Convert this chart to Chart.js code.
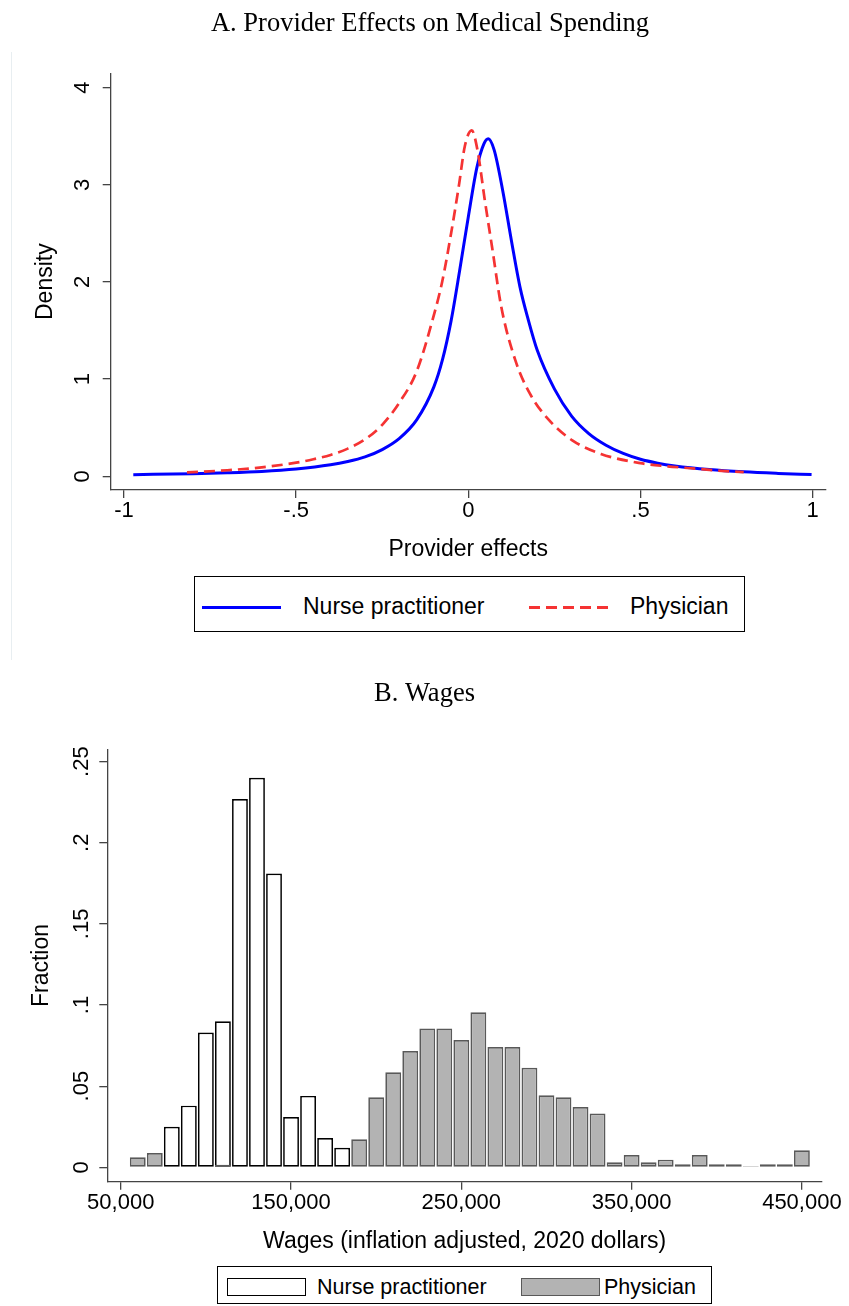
<!DOCTYPE html>
<html lang="en">
<head>
    <meta charset="UTF-8">
    <title>Provider Effects and Wages</title>
    <script src="https://cdn.jsdelivr.net/npm/chart.js"></script>
    <style>
        body { margin: 0; background: #fff; overflow: hidden; font-family: "Liberation Sans", Arial, sans-serif; }
        .box { position: absolute; }
        .legend { position: absolute; border: 1px solid #000; box-sizing: border-box; }
        .ltext { position: absolute; color: #000; white-space: nowrap; }
    </style>
</head>
<body>
    <div class="box" style="left:11px; top:52px; width:1px; height:608px; background:#e8eef1;"></div>

    <div class="box" style="left:11px; top:0px; width:838px; height:570px;">
        <canvas id="densityChart"></canvas>
    </div>

    <div class="legend" style="left:194px; top:576px; width:551px; height:56px;"></div>
    <div class="box" style="left:202px; top:605.5px; width:79px; height:3px; background:#0000ff;"></div>
    <div class="ltext" style="left:303px; top:592px; font-size:23px; line-height:28px;">Nurse practitioner</div>
    <div class="box" style="left:529px; top:605.5px; width:80px; height:3px; background:repeating-linear-gradient(to right, #f53333 0 11px, transparent 11px 17px);"></div>
    <div class="ltext" style="left:630px; top:592px; font-size:23px; line-height:28px;">Physician</div>

    <div class="box" style="left:0px; top:650px; width:849px; height:610px;">
        <canvas id="wageChart"></canvas>
    </div>

    <div class="legend" style="left:217px; top:1266px; width:495px; height:38px;"></div>
    <div class="box" style="left:227px; top:1278px; width:79px; height:18px; background:#fff; border:1.5px solid #000; box-sizing:border-box;"></div>
    <div class="ltext" style="left:317px; top:1274px; font-size:21.5px; line-height:26px;">Nurse practitioner</div>
    <div class="box" style="left:521px; top:1278px; width:79px; height:18px; background:#b3b3b3; border:1.5px solid #595959; box-sizing:border-box;"></div>
    <div class="ltext" style="left:604px; top:1274px; font-size:21.5px; line-height:26px;">Physician</div>

    <script>
        // Panel A: kernel densities of provider effects
        const npEffectX = [-0.973, -0.8, -0.7, -0.6, -0.5, -0.4, -0.35, -0.3, -0.25, -0.2, -0.15, -0.1, -0.075, -0.05, -0.025, 0, 0.025, 0.045, 0.058, 0.075, 0.1, 0.125, 0.15, 0.175, 0.2, 0.25, 0.3, 0.35, 0.4, 0.45, 0.5, 0.55, 0.6, 0.7, 0.8, 0.9, 0.997];
        const npDensity = [0.017, 0.027, 0.036, 0.05, 0.075, 0.118, 0.152, 0.2, 0.275, 0.39, 0.58, 0.92, 1.2, 1.6, 2.12, 2.67, 3.18, 3.42, 3.475, 3.36, 2.94, 2.43, 1.95, 1.6, 1.3, 0.9, 0.62, 0.44, 0.32, 0.235, 0.175, 0.135, 0.107, 0.07, 0.046, 0.03, 0.018];
        const phEffectX = [-0.817, -0.7, -0.6, -0.5, -0.45, -0.4, -0.35, -0.3, -0.25, -0.2, -0.15, -0.1, -0.076, -0.05, -0.027, -0.01, 0.01, 0.027, 0.048, 0.069, 0.096, 0.137, 0.179, 0.234, 0.302, 0.385, 0.5, 0.57, 0.646, 0.72, 0.8];
        const phDensity = [0.04, 0.062, 0.092, 0.14, 0.175, 0.22, 0.285, 0.38, 0.53, 0.76, 1.08, 1.66, 2.0, 2.5, 3.0, 3.4, 3.56, 3.35, 2.84, 2.36, 1.74, 1.19, 0.85, 0.58, 0.37, 0.23, 0.135, 0.105, 0.083, 0.06, 0.042];
        const effectTicks = [-1, -0.5, 0, 0.5, 1];
        const effectTickLabels = ['-1', '-.5', '0', '.5', '1'];
        const densityTicks = [0, 1, 2, 3, 4];
        const densityTickLabels = ['0', '1', '2', '3', '4'];

        // Panel B: wage histograms (bin midpoints, fraction per bin)
        const wageBins = [60000, 70000, 80000, 90000, 100000, 110000, 120000, 130000, 140000, 150000,
                          160000, 170000, 180000, 190000, 200000, 210000, 220000, 230000, 240000, 250000,
                          260000, 270000, 280000, 290000, 300000, 310000, 320000, 330000, 340000, 350000,
                          360000, 370000, 380000, 390000, 400000, 410000, 420000, 430000, 440000, 450000];
        const npFraction = [null, null, 0.025, 0.038, 0.083, 0.090, 0.227, 0.240, 0.181, 0.031,
                            0.044, 0.018, 0.012, null, null, null, null, null, null, null,
                            null, null, null, null, null, null, null, null, null, null,
                            null, null, null, null, null, null, null, null, null, null];
        const phFraction = [0.0062, 0.0088, null, null, null, 0.0016, null, null, null, null,
                            null, null, null, 0.0173, 0.0432, 0.0586, 0.0716, 0.0856, 0.0856, 0.0784,
                            0.0955, 0.0741, 0.0741, 0.0613, 0.0444, 0.0432, 0.0372, 0.0331, 0.0031, 0.0076,
                            0.0031, 0.0047, 0.0019, 0.0076, 0.0019, 0.0019, 0.0006, 0.0019, 0.0019, 0.0105];
        const wageTicks = [50000, 150000, 250000, 350000, 450000];
        const wageTickLabels = ['50,000', '150,000', '250,000', '350,000', '450,000'];
        const fractionTicks = [0, 0.05, 0.1, 0.15, 0.2, 0.25];
        const fractionTickLabels = ['0', '.05', '.1', '.15', '.2', '.25'];

        Chart.defaults.font.family = '"Liberation Sans", Arial, sans-serif';
        Chart.defaults.color = '#000';

        const AXIS_COLOR = '#444';

        // Stata-style y tick labels, turned 90 degrees
        const rotatedYTicks = {
            id: 'rotatedYTicks',
            afterDraw(chart, args, opts) {
                const scale = chart.scales.y;
                const ctx = chart.ctx;
                ctx.save();
                ctx.font = opts.size + 'px "Liberation Sans", Arial, sans-serif';
                ctx.fillStyle = '#000';
                ctx.textAlign = 'center';
                ctx.textBaseline = 'alphabetic';
                opts.values.forEach((v, i) => {
                    const py = scale.getPixelForValue(v);
                    ctx.save();
                    ctx.translate(opts.x, py);
                    ctx.rotate(-Math.PI / 2);
                    ctx.fillText(opts.labels[i], 0, 0);
                    ctx.restore();
                });
                ctx.restore();
            }
        };

        function axisGrid() {
            return { drawOnChartArea: false, drawTicks: true, tickLength: 8, color: AXIS_COLOR, lineWidth: 1.3, offset: false };
        }

        function axisBorder() {
            return { display: true, color: AXIS_COLOR, width: 1.3 };
        }

        // empty right-hand axis, only keeps the right margin so the title stays centred on the whole panel
        function rightMargin(w) {
            return {
                position: 'right',
                display: true,
                grid: { display: false, drawTicks: false },
                border: { display: false },
                ticks: { display: false },
                afterFit: s => { s.width = w; }
            };
        }

        const titleFont = { family: '"Liberation Serif", "Times New Roman", serif', size: 26.5, weight: 'normal', lineHeight: 1.2 };

        new Chart(document.getElementById('densityChart'), {
            type: 'line',
            data: {
                datasets: [
                    {
                        label: 'Nurse practitioner',
                        data: npEffectX.map((x, i) => ({ x: x, y: npDensity[i] })),
                        borderColor: '#0000ff',
                        borderWidth: 3,
                        pointRadius: 0,
                        fill: false,
                        cubicInterpolationMode: 'monotone',
                        order: 1
                    },
                    {
                        label: 'Physician',
                        data: phEffectX.map((x, i) => ({ x: x, y: phDensity[i] })),
                        borderColor: '#f53333',
                        borderWidth: 2.7,
                        borderDash: [11, 6],
                        pointRadius: 0,
                        fill: false,
                        cubicInterpolationMode: 'monotone',
                        order: 0
                    }
                ]
            },
            options: {
                responsive: true,
                maintainAspectRatio: false,
                animation: false,
                layout: { padding: { left: 0, right: 0, top: 0, bottom: 6.2 } },
                scales: {
                    x: {
                        type: 'linear',
                        min: -1.0386,
                        max: 1.038,
                        afterBuildTicks: s => { s.ticks = effectTicks.map(v => ({ value: v })); },
                        afterFit: s => { s.height = 73.8; },
                        ticks: { callback: (v, i) => effectTickLabels[i], font: { size: 22 }, padding: 0, maxRotation: 0, autoSkip: false },
                        grid: axisGrid(),
                        border: axisBorder(),
                        title: { display: true, text: 'Provider effects', font: { size: 23 }, padding: { top: 0, bottom: 0 } }
                    },
                    y: {
                        min: -0.141,
                        max: 4.148,
                        afterBuildTicks: s => { s.ticks = densityTicks.map(v => ({ value: v })); },
                        afterFit: s => { s.width = 99.7; },
                        ticks: { display: false },
                        grid: axisGrid(),
                        border: axisBorder(),
                        title: { display: true, text: 'Density', font: { size: 23 }, padding: { top: 20.4, bottom: 0 } }
                    },
                    yRight: rightMargin(23.3)
                },
                plugins: {
                    legend: { display: false },
                    tooltip: { enabled: false },
                    title: {
                        display: true,
                        text: 'A. Provider Effects on Medical Spending',
                        font: titleFont,
                        color: '#000',
                        padding: { top: 8.1, bottom: 33.4 }
                    },
                    rotatedYTicks: { x: 78.3, size: 22, values: densityTicks, labels: densityTickLabels }
                }
            },
            plugins: [rotatedYTicks]
        });

        new Chart(document.getElementById('wageChart'), {
            type: 'bar',
            data: {
                datasets: [
                    {
                        label: 'Nurse practitioner',
                        data: wageBins.map((x, i) => ({ x: x, y: npFraction[i] })),
                        backgroundColor: '#ffffff',
                        borderColor: '#000000',
                        borderWidth: 1.7,
                        borderSkipped: false,
                        grouped: false,
                        barPercentage: 0.93,
                        categoryPercentage: 1,
                        order: 1
                    },
                    {
                        label: 'Physician',
                        data: wageBins.map((x, i) => ({ x: x, y: phFraction[i] })),
                        backgroundColor: '#b3b3b3',
                        borderColor: '#595959',
                        borderWidth: 1.7,
                        borderSkipped: false,
                        grouped: false,
                        barPercentage: 0.93,
                        categoryPercentage: 1,
                        order: 0
                    }
                ]
            },
            options: {
                responsive: true,
                maintainAspectRatio: false,
                animation: false,
                layout: { padding: { left: 0, right: 0, top: 0, bottom: 4.2 } },
                scales: {
                    x: {
                        type: 'linear',
                        offset: false,
                        min: 42100,
                        max: 461800,
                        afterBuildTicks: s => { s.ticks = wageTicks.map(v => ({ value: v })); },
                        afterFit: s => { s.height = 74.1; },
                        ticks: { callback: (v, i) => wageTickLabels[i], font: { size: 22 }, padding: 0, maxRotation: 0, autoSkip: false },
                        grid: axisGrid(),
                        border: axisBorder(),
                        title: { display: true, text: 'Wages (inflation adjusted, 2020 dollars)', font: { size: 23 }, padding: { top: 0, bottom: 0 } }
                    },
                    y: {
                        min: -0.00888,
                        max: 0.2576,
                        beginAtZero: false,
                        afterBuildTicks: s => { s.ticks = fractionTicks.map(v => ({ value: v })); },
                        afterFit: s => { s.width = 107.3; },
                        ticks: { display: false },
                        grid: axisGrid(),
                        border: axisBorder(),
                        title: { display: true, text: 'Fraction', font: { size: 23 }, padding: { top: 27.4, bottom: 0 } }
                    },
                    yRight: rightMargin(27)
                },
                plugins: {
                    legend: { display: false },
                    tooltip: { enabled: false },
                    title: {
                        display: true,
                        text: 'B. Wages',
                        font: titleFont,
                        color: '#000',
                        padding: { top: 28.1, bottom: 39.4 }
                    },
                    rotatedYTicks: { x: 88.3, size: 22, values: fractionTicks, labels: fractionTickLabels }
                }
            },
            plugins: [rotatedYTicks]
        });
    </script>
</body>
</html>
